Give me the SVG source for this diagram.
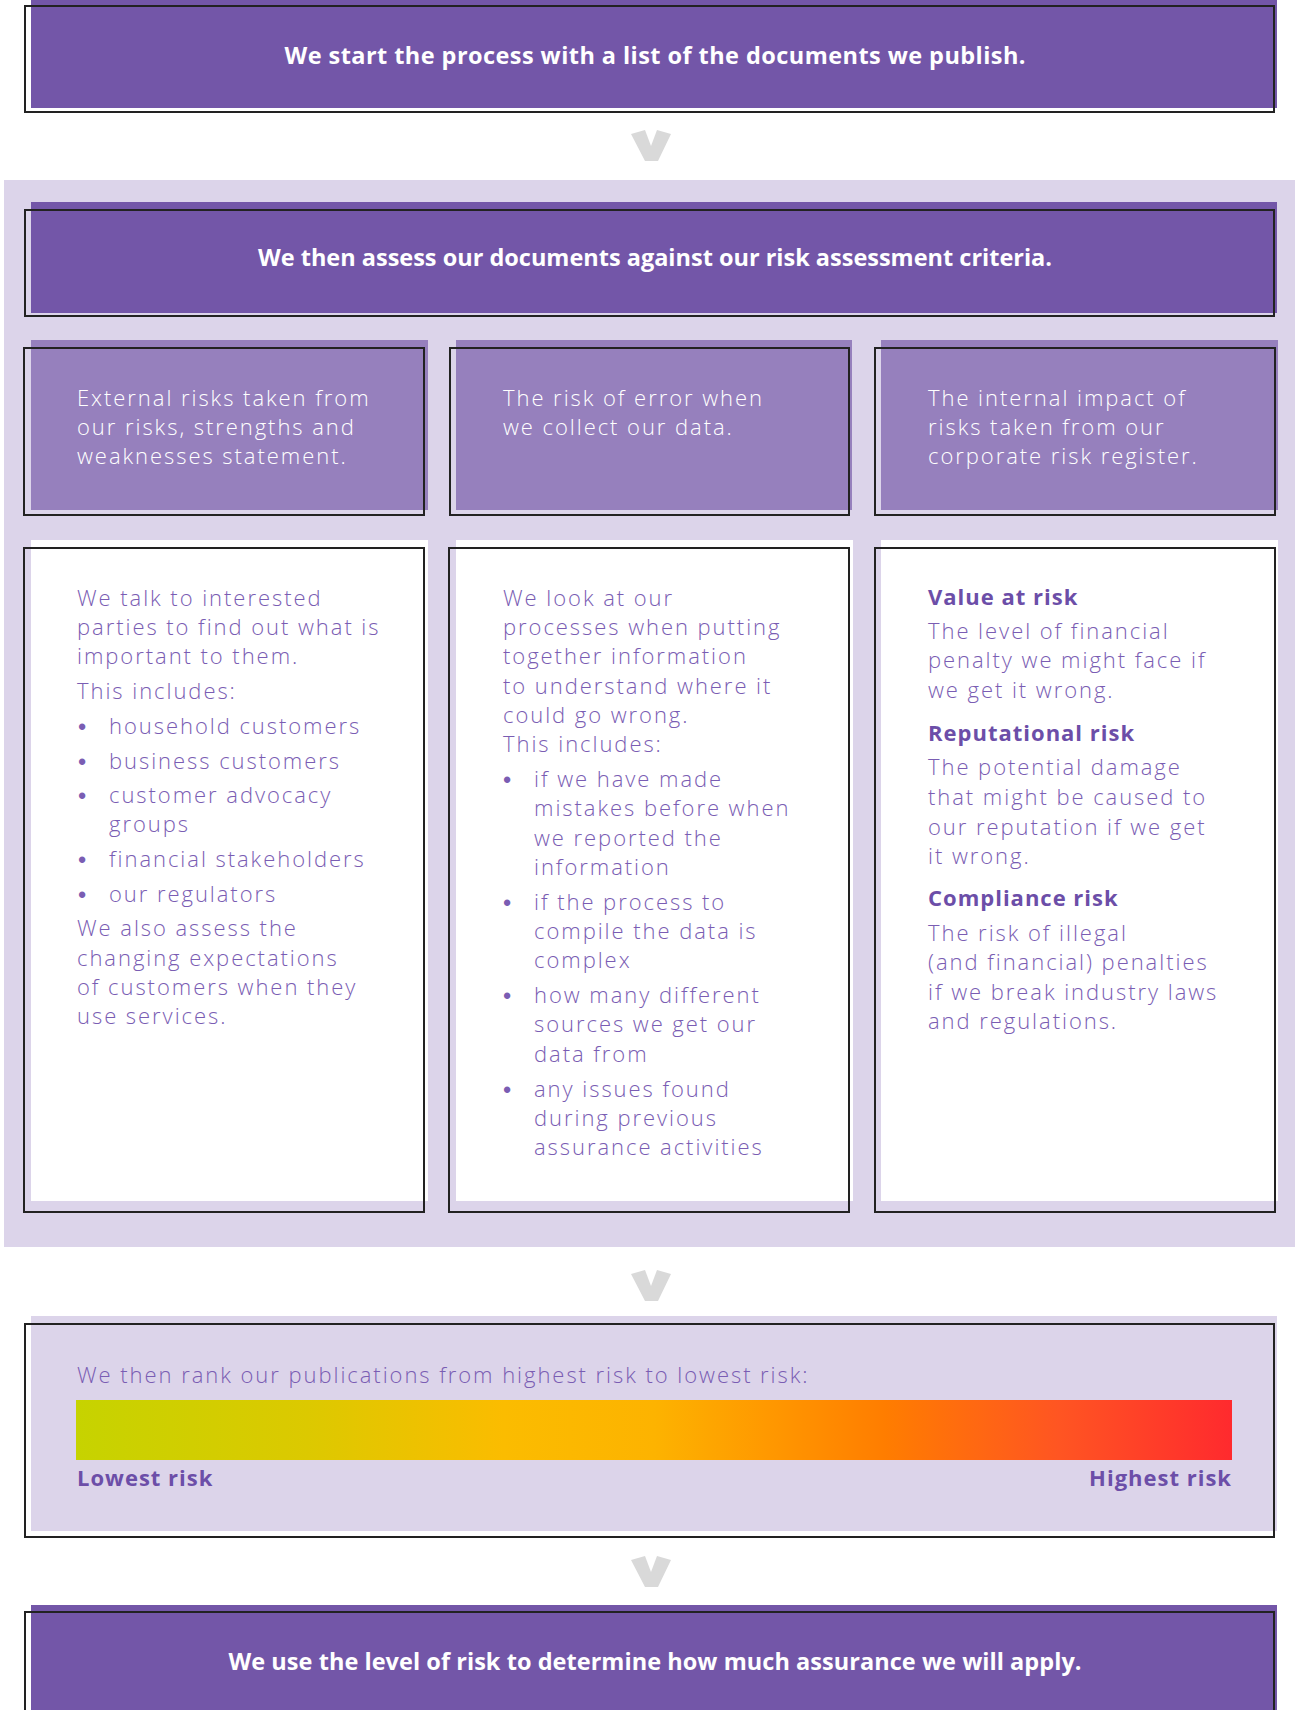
<svg xmlns="http://www.w3.org/2000/svg" width="1295" height="1710" viewBox="0 0 1295 1710">
<defs>
<style>
.hdr{fill:#7356a8}
.sub{fill:#9680bd}
.wht{fill:#ffffff}
.lav{fill:#dcd4ea}
.ol{fill:none;stroke:#222222;stroke-width:2}
.chev{fill:#d9d9d9}
.th{font-family:"Open Sans","Liberation Sans",sans-serif;font-weight:700;font-size:23.5px;fill:#ffffff;text-anchor:middle}
.ts{font-family:"Open Sans","Liberation Sans",sans-serif;font-weight:300;font-size:22px;fill:#ffffff;letter-spacing:1.95px}
.tb{font-family:"Open Sans","Liberation Sans",sans-serif;font-weight:300;font-size:22px;fill:#7a5db3;letter-spacing:1.95px}
.tk{font-family:"Open Sans","Liberation Sans",sans-serif;font-weight:700;font-size:22px;fill:#6c4ea8;letter-spacing:1px}
.bu{font-family:"Liberation Sans",sans-serif;font-weight:700;font-size:22px;fill:#7a5db3;text-anchor:middle}
</style>
<linearGradient id="risk" x1="0" y1="0" x2="1" y2="0">
<stop offset="0" stop-color="#c6d300"/>
<stop offset="0.2" stop-color="#dcc900"/>
<stop offset="0.37" stop-color="#fbbc00"/>
<stop offset="0.5" stop-color="#fdb300"/>
<stop offset="0.6" stop-color="#ff9800"/>
<stop offset="0.7" stop-color="#ff7d00"/>
<stop offset="0.85" stop-color="#ff5522"/>
<stop offset="1" stop-color="#ff2a2e"/>
</linearGradient>
<polygon id="chevron" points="631,134 645,130 651,146 657,130 671,134 658,161 645,161"/>
</defs>

<rect class="lav" x="4" y="180" width="1291" height="1067"/>

<g id="step-list">
<rect class="hdr" x="31" y="0" width="1246" height="108"/>
<rect class="ol" x="25" y="6" width="1249" height="106"/>
<text class="th" x="655" y="64" textLength="741">We start the process with a list of the documents we publish.</text>
</g>

<g id="step-assess">
<rect class="hdr" x="31" y="202" width="1246" height="111"/>
<rect class="ol" x="25" y="210" width="1249" height="106"/>
<text class="th" x="655" y="266" textLength="794">We then assess our documents against our risk assessment criteria.</text>
</g>

<g id="crit-external">
<rect class="sub" x="31" y="340" width="397" height="170"/>
<rect class="ol" x="24" y="348" width="400" height="167"/>
<text class="ts"><tspan x="77" y="406">External risks taken from</tspan><tspan x="77" y="435">our risks, strengths and</tspan><tspan x="77" y="464">weaknesses statement.</tspan></text>
</g>

<g id="crit-error">
<rect class="sub" x="456" y="340" width="396" height="170"/>
<rect class="ol" x="450" y="348" width="399" height="167"/>
<text class="ts"><tspan x="503" y="406">The risk of error when</tspan><tspan x="503" y="435">we collect our data.</tspan></text>
</g>

<g id="crit-internal">
<rect class="sub" x="881" y="340" width="397" height="170"/>
<rect class="ol" x="875" y="348" width="400" height="167"/>
<text class="ts"><tspan x="928" y="406">The internal impact of</tspan><tspan x="928" y="435">risks taken from our</tspan><tspan x="928" y="464">corporate risk register.</tspan></text>
</g>

<g id="detail-external">
<rect class="wht" x="31" y="540" width="397" height="661"/>
<rect class="ol" x="24" y="548" width="400" height="664"/>
<text class="tb">
<tspan x="77" y="606">We talk to interested</tspan>
<tspan x="77" y="635">parties to find out what is</tspan>
<tspan x="77" y="664">important to them.</tspan>
<tspan x="77" y="699">This includes:</tspan>
<tspan x="109" y="734">household customers</tspan>
<tspan x="109" y="769">business customers</tspan>
<tspan x="109" y="803">customer advocacy</tspan>
<tspan x="109" y="832">groups</tspan>
<tspan x="109" y="867">financial stakeholders</tspan>
<tspan x="109" y="902">our regulators</tspan>
<tspan x="77" y="936">We also assess the</tspan>
<tspan x="77" y="966">changing expectations</tspan>
<tspan x="77" y="995">of customers when they</tspan>
<tspan x="77" y="1024">use services.</tspan>
</text>
<text class="bu"><tspan x="82" y="734">•</tspan><tspan x="82" y="769">•</tspan><tspan x="82" y="803">•</tspan><tspan x="82" y="867">•</tspan><tspan x="82" y="902">•</tspan></text>
</g>

<g id="detail-error">
<rect class="wht" x="456" y="540" width="397" height="661"/>
<rect class="ol" x="449" y="548" width="400" height="664"/>
<text class="tb">
<tspan x="503" y="606">We look at our</tspan>
<tspan x="503" y="635">processes when putting</tspan>
<tspan x="503" y="664">together information</tspan>
<tspan x="503" y="694">to understand where it</tspan>
<tspan x="503" y="723">could go wrong.</tspan>
<tspan x="503" y="752">This includes:</tspan>
<tspan x="534" y="787">if we have made</tspan>
<tspan x="534" y="816">mistakes before when</tspan>
<tspan x="534" y="846">we reported the</tspan>
<tspan x="534" y="875">information</tspan>
<tspan x="534" y="910">if the process to</tspan>
<tspan x="534" y="939">compile the data is</tspan>
<tspan x="534" y="968">complex</tspan>
<tspan x="534" y="1003">how many different</tspan>
<tspan x="534" y="1032">sources we get our</tspan>
<tspan x="534" y="1062">data from</tspan>
<tspan x="534" y="1097">any issues found</tspan>
<tspan x="534" y="1126">during previous</tspan>
<tspan x="534" y="1155">assurance activities</tspan>
</text>
<text class="bu"><tspan x="507" y="787">•</tspan><tspan x="507" y="910">•</tspan><tspan x="507" y="1003">•</tspan><tspan x="507" y="1097">•</tspan></text>
</g>

<g id="detail-internal">
<rect class="wht" x="881" y="540" width="397" height="661"/>
<rect class="ol" x="875" y="548" width="400" height="664"/>
<text class="tk" x="928" y="605">Value at risk</text>
<text class="tb">
<tspan x="928" y="639">The level of financial</tspan>
<tspan x="928" y="668">penalty we might face if</tspan>
<tspan x="928" y="698">we get it wrong.</tspan>
</text>
<text class="tk" x="928" y="741">Reputational risk</text>
<text class="tb">
<tspan x="928" y="775">The potential damage</tspan>
<tspan x="928" y="805">that might be caused to</tspan>
<tspan x="928" y="835">our reputation if we get</tspan>
<tspan x="928" y="864">it wrong.</tspan>
</text>
<text class="tk" x="928" y="906">Compliance risk</text>
<text class="tb">
<tspan x="928" y="941">The risk of illegal</tspan>
<tspan x="928" y="970">(and financial) penalties</tspan>
<tspan x="928" y="1000">if we break industry laws</tspan>
<tspan x="928" y="1029">and regulations.</tspan>
</text>
</g>

<g id="step-rank">
<rect class="lav" x="31" y="1316" width="1246" height="215"/>
<rect class="ol" x="25" y="1324" width="1249" height="213"/>
<text class="tb" x="77" y="1383">We then rank our publications from highest risk to lowest risk:</text>
<rect x="76" y="1400" width="1156" height="60" fill="url(#risk)"/>
<text class="tk" x="77" y="1486">Lowest risk</text>
<text class="tk" x="1232" y="1486" text-anchor="end">Highest risk</text>
</g>

<g id="step-apply">
<rect class="hdr" x="31" y="1605" width="1246" height="120"/>
<rect class="ol" x="25" y="1612" width="1249" height="120"/>
<text class="th" x="655" y="1670" textLength="853">We use the level of risk to determine how much assurance we will apply.</text>
</g>

<g id="connectors">
<use href="#chevron" class="chev"/>
<use href="#chevron" class="chev" transform="translate(0,1140)"/>
<use href="#chevron" class="chev" transform="translate(0,1426)"/>
</g>
</svg>
